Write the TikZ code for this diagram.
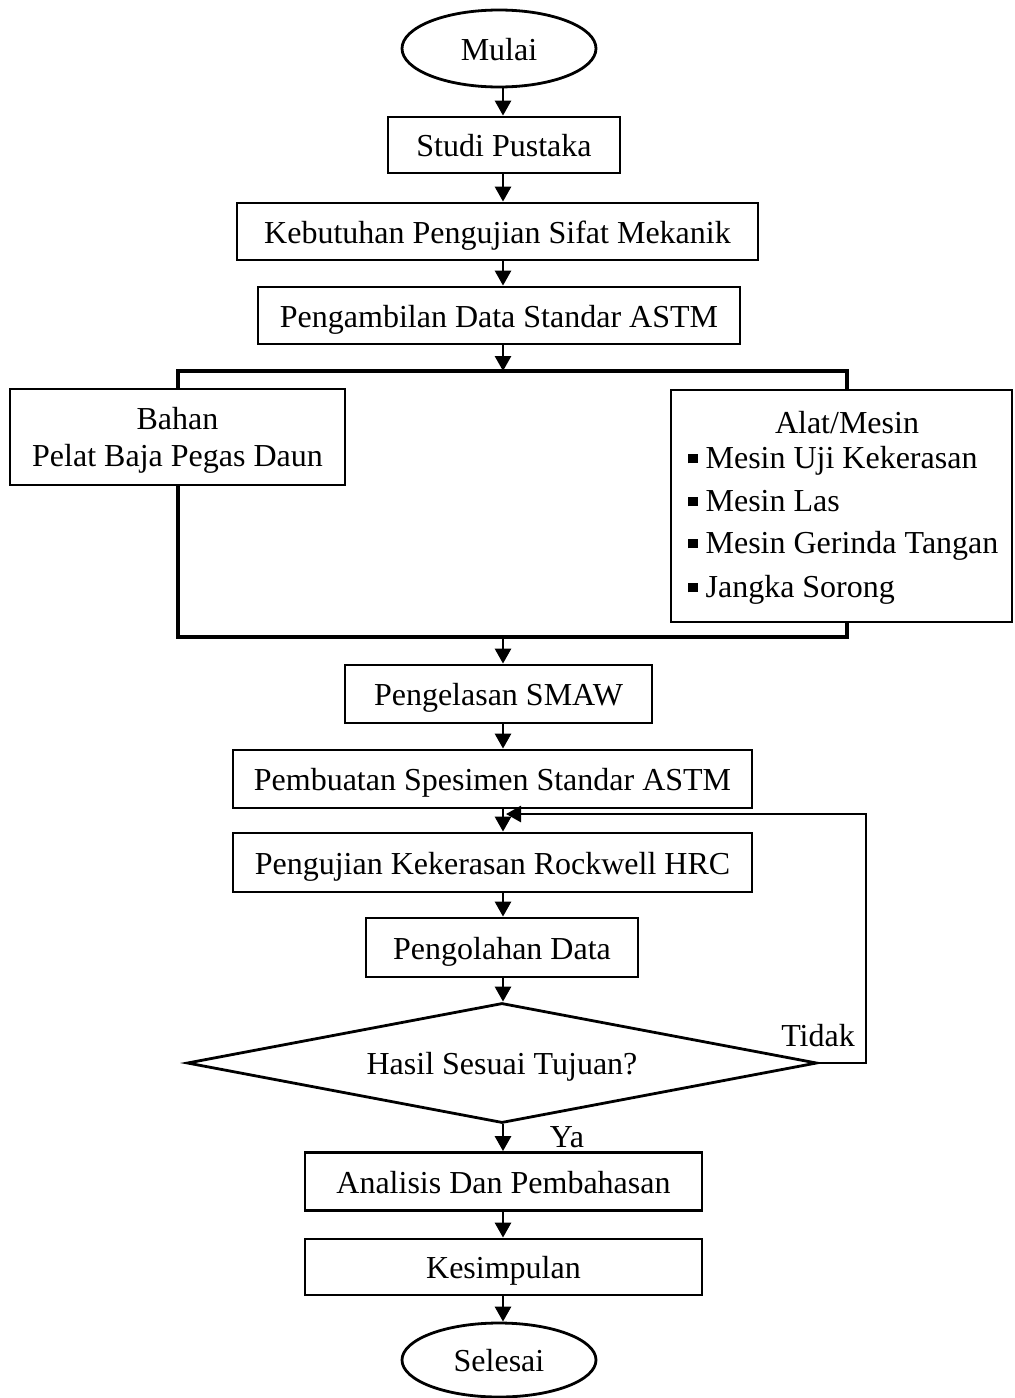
\documentclass[tikz,border=0pt]{standalone}
\usepackage{fontspec}
\setmainfont{Liberation Serif}
\usepackage{tikz}
\usetikzlibrary{arrows.meta,shapes.geometric}

\begin{document}
\begin{tikzpicture}[x=0.5pt, y=-0.5pt,
        font=\fontsize{16}{18.5}\selectfont,
        bingkai/.style={draw, line width=1.4pt, inner sep=0pt, align=center},
        kotak/.style={bingkai, text height=11.5pt, text depth=0pt},
        terminal/.style={draw, ellipse, line width=1.4pt, inner sep=0pt, text height=11.5pt, text depth=0pt},
        keputusan/.style={draw, diamond, aspect=5.25, line width=1.4pt, inner sep=0pt, text height=11.5pt, text depth=0pt},
        butir/.style={anchor=base west, inner sep=0pt},
        panah/.style={line width=1.4pt, -{Triangle[length=7.5pt,width=8pt]}},
        jalur/.style={line width=2pt}]
        \useasboundingbox (0,0) rectangle (1014,1398);
        \coordinate (sumbu) at (503,0);

        \node[terminal, minimum width=97pt, minimum height=38.5pt] (mulai) at (499,48.5) {Mulai};
        \node[kotak, minimum width=116pt, minimum height=28pt] (studi) at (504,145) {Studi Pustaka};
        \node[kotak, minimum width=260.5pt, minimum height=28.5pt] (butuh) at (497.5,231.5) {Kebutuhan Pengujian Sifat Mekanik};
        \node[kotak, minimum width=241pt, minimum height=28.5pt] (ambil) at (499,315.5) {Pengambilan Data Standar ASTM};

        \node[bingkai, text depth=0pt, minimum width=167.5pt, minimum height=48pt] (bahan) at (177.5,437) {Bahan\\Pelat Baja Pegas Daun};
        \node[bingkai, minimum width=170.5pt, minimum height=116pt] (alat) at (841.5,506) {};
        \node (alatjudul) at (847,423) {Alat/Mesin};
        \node[butir] (alat1) at (688,468) {\rule[2.3pt]{4.6pt}{4.6pt}\hspace{4pt}Mesin Uji Kekerasan};
        \node[butir] (alat2) at (688,511) {\rule[2.3pt]{4.6pt}{4.6pt}\hspace{4pt}Mesin Las};
        \node[butir] (alat3) at (688,553) {\rule[2.3pt]{4.6pt}{4.6pt}\hspace{4pt}Mesin Gerinda Tangan};
        \node[butir] (alat4) at (688,597) {\rule[2.3pt]{4.6pt}{4.6pt}\hspace{4pt}Jangka Sorong};

        \node[kotak, minimum width=153.5pt, minimum height=29pt] (las) at (498.5,694) {Pengelasan SMAW};
        \node[kotak, minimum width=259.5pt, minimum height=29pt] (buat) at (492.5,779) {Pembuatan Spesimen Standar ASTM};
        \node[kotak, minimum width=259.5pt, minimum height=29.5pt] (uji) at (492.5,862.5) {Pengujian Kekerasan Rockwell HRC};
        \node[kotak, minimum width=136pt, minimum height=29.5pt] (olah) at (502,947.5) {Pengolahan Data};
        \node[keputusan, minimum width=315pt, minimum height=60pt] (cek) at (502,1063) {Hasil Sesuai Tujuan?};
        \node[kotak, minimum width=198.5pt, minimum height=29pt] (analisis) at (503.5,1181.5) {Analisis Dan Pembahasan};
        \node[kotak, minimum width=198.5pt, minimum height=28pt] (simpul) at (503.5,1267) {Kesimpulan};
        \node[terminal, minimum width=97pt, minimum height=37pt] (selesai) at (499,1360) {Selesai};

        \node (tidak) at (818,1036) {Tidak};
        \node (ya) at (567,1137) {Ya};

        \draw[panah] (mulai.south -| sumbu) -- (studi.north -| sumbu);
        \draw[panah] (studi.south -| sumbu) -- (butuh.north -| sumbu);
        \draw[panah] (butuh.south -| sumbu) -- (ambil.north -| sumbu);

        \coordinate (atas) at (503,371);
        \coordinate (kananatas) at (847,371);
        \coordinate (bawah) at (503,637);
        \coordinate (kananbawah) at (847,637);
        \draw[panah] (ambil.south -| sumbu) -- (atas);
        \draw[jalur] (bahan.north) |- (kananatas) -- (kananatas |- alat.north);
        \draw[jalur] (bahan.south) |- (kananbawah) -- (kananbawah |- alat.south);
        \draw[panah] (bawah) -- (las.north -| sumbu);

        \draw[panah] (las.south -| sumbu) -- (buat.north -| sumbu);
        \draw[panah] (buat.south -| sumbu) -- (uji.north -| sumbu);
        \draw[panah] (uji.south -| sumbu) -- (olah.north -| sumbu);
        \draw[panah] (olah.south -| sumbu) -- (cek.north -| sumbu);
        \draw[panah] (cek.south -| sumbu) -- (analisis.north -| sumbu);
        \draw[panah] (analisis.south -| sumbu) -- (simpul.north -| sumbu);
        \draw[panah] (simpul.south -| sumbu) -- (selesai.north -| sumbu);

        \coordinate (ujung) at (866,814);
        \coordinate (balik) at (506,814);
        \draw[panah] (cek.east) -| (ujung) -- (balik);
    \end{tikzpicture}
\end{document}
